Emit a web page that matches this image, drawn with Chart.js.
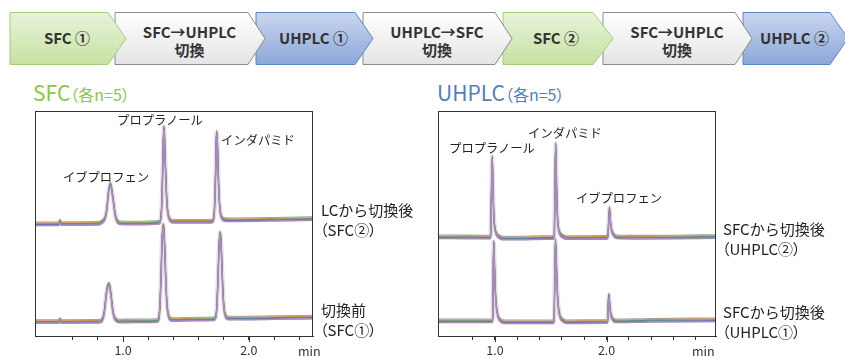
<!DOCTYPE html>
<html>
<head>
<meta charset="utf-8">
<script src="https://cdn.jsdelivr.net/npm/chart.js@4.4.1/dist/chart.umd.min.js"></script>
<style>
  body { margin:0; width:845px; height:358px; position:relative; overflow:hidden; background:#fff;
         font-family:"Noto Sans CJK JP","Noto Sans",sans-serif; color:#222; }
  .abs { position:absolute; white-space:nowrap; }
  .peak { position:absolute; white-space:nowrap; font-size:12.3px; line-height:1; transform:translate(-50%,-50%); color:#222; }
  .side { position:absolute; white-space:nowrap; font-size:15px; line-height:20px; color:#222; }
  .side .p { font-feature-settings:"palt"; margin-left:-1px; }
  .unit { position:absolute; font-size:12.5px; line-height:1; color:#333; }
  canvas { position:absolute; }
</style>
</head>
<body>

<svg class="abs" style="left:0;top:0" width="845" height="75">
  <defs>
    <linearGradient id="gG" x1="0" y1="0" x2="0" y2="1"><stop offset="0" stop-color="#e8f3da"/><stop offset="1" stop-color="#c6e1a2"/></linearGradient>
    <linearGradient id="gW" x1="0" y1="0" x2="0" y2="1"><stop offset="0" stop-color="#ffffff"/><stop offset="1" stop-color="#e4e4e4"/></linearGradient>
    <linearGradient id="gB" x1="0" y1="0" x2="0" y2="1"><stop offset="0" stop-color="#cad6ef"/><stop offset="1" stop-color="#8ca7d8"/></linearGradient>
  </defs>
  <g id="flow"></g>
</svg>

<div class="abs" style="left:33px;top:82px;line-height:1;color:#8cc63f">
  <span style="font-size:21px">SFC</span><span style="font-size:16px;font-feature-settings:'palt'">（各n=5）</span>
</div>
<div class="abs" style="left:437px;top:82px;line-height:1;color:#4f7fc0">
  <span style="font-size:21px">UHPLC</span><span style="font-size:16px;font-feature-settings:'palt'">（各n=5）</span>
</div>

<canvas id="sfc" width="300" height="253" style="left:25px;top:105px"></canvas>
<canvas id="lc" width="300" height="253" style="left:428px;top:105px"></canvas>

<div class="peak" style="left:160px;top:120px">プロプラノール</div>
<div class="peak" style="left:258px;top:140px">インダパミド</div>
<div class="peak" style="left:106px;top:177px">イブプロフェン</div>
<div class="peak" style="left:492px;top:148px">プロプラノール</div>
<div class="peak" style="left:565px;top:133px">インダパミド</div>
<div class="peak" style="left:619px;top:198px">イブプロフェン</div>

<div class="side" style="left:321px;top:200px">LCから切換後<br><span class="p">（SFC②）</span></div>
<div class="side" style="left:321px;top:300px">切換前<br><span class="p">（SFC①）</span></div>
<div class="side" style="left:723px;top:219px">SFCから切換後<br><span class="p">（UHPLC②）</span></div>
<div class="side" style="left:723px;top:302px">SFCから切換後<br><span class="p">（UHPLC①）</span></div>

<div class="unit" style="left:298px;top:345px">min</div>
<div class="unit" style="left:692px;top:345px">min</div>

<script>
// flow steps
const stepLabels = [['SFC ①'], ['SFC→UHPLC', '切換'], ['UHPLC ①'], ['UHPLC→SFC', '切換'], ['SFC ②'], ['SFC→UHPLC', '切換'], ['UHPLC ②']];
const stepKinds = ['G', 'W', 'B', 'W', 'G', 'W', 'B'];

// run colours (n=5) and their baseline spread
const runColors = ['#a3a3a3', '#f08c2e', '#3ea24c', '#2f5fae', '#b37ecd'];
const runShift = [2.0, 1.0, 0.2, -0.6, -1.5];

// SFC panel: [time (min), signal]
const sfcLower = [
  [0.30, 14.3], [0.49, 14.3], [0.497, 16.5], [0.503, 15.2], [0.51, 14.3], [0.80, 14.5], [0.830, 15.5],
  [0.843, 19.3], [0.855, 28], [0.864, 39.3], [0.876, 49], [0.888, 52], [0.898, 47], [0.908, 37],
  [0.918, 26], [0.930, 19], [0.945, 16], [0.97, 14.8], [1.10, 15], [1.27, 15.3], [1.283, 17],
  [1.293, 30], [1.302, 60], [1.310, 95], [1.316, 108], [1.320, 111], [1.325, 106], [1.332, 85],
  [1.340, 55], [1.349, 32], [1.360, 21], [1.375, 17], [1.40, 16.3], [1.60, 16.7], [1.72, 17],
  [1.735, 18.5], [1.745, 28], [1.754, 55], [1.762, 85], [1.768, 100], [1.772, 103], [1.777, 98],
  [1.784, 78], [1.792, 50], [1.801, 30], [1.812, 21], [1.83, 18], [1.86, 17.7], [2.20, 18.2], [2.51, 18.7]
];
const sfcUpper = [
  [0.30, 112], [0.49, 112], [0.497, 115], [0.503, 113.5], [0.51, 112.3], [0.80, 112.5], [0.83, 114],
  [0.856, 117.7], [0.870, 126], [0.883, 142.7], [0.893, 150], [0.900, 152], [0.908, 148], [0.922, 136],
  [0.936, 122.7], [0.949, 116], [0.976, 113], [1.10, 112.8], [1.29, 113.5], [1.300, 118], [1.308, 132],
  [1.315, 165], [1.320, 195], [1.325, 209], [1.330, 198], [1.336, 172], [1.344, 145], [1.353, 127],
  [1.363, 119], [1.378, 115.5], [1.40, 114.5], [1.70, 114.5], [1.715, 115.5], [1.724, 122], [1.731, 140],
  [1.737, 170], [1.741, 195], [1.745, 204], [1.750, 194], [1.756, 165], [1.764, 138], [1.773, 124],
  [1.784, 118.5], [1.80, 116.5], [1.84, 116], [2.20, 116.5], [2.51, 117.3]
];

// UHPLC panel: [time (min), signal]
const lcLower = [
  [0.49, 15], [0.90, 15], [0.975, 15], [0.980, 18], [0.984, 55], [0.989, 94.3], [0.994, 78],
  [1.000, 55], [1.008, 36], [1.018, 25], [1.03, 19], [1.05, 15.5], [1.08, 14], [1.30, 14],
  [1.52, 14], [1.530, 16], [1.535, 50], [1.542, 96], [1.548, 80], [1.555, 55], [1.563, 36],
  [1.573, 25], [1.585, 19], [1.61, 15.5], [1.64, 14], [1.95, 14.3], [2.005, 14.3], [2.011, 18],
  [2.016, 35], [2.021, 41], [2.027, 33], [2.035, 24], [2.045, 19], [2.06, 16], [2.085, 15],
  [2.40, 15.5], [2.98, 16]
];
const lcUpper = [
  [0.49, 99], [0.60, 99], [0.90, 98.8], [0.955, 98.8], [0.962, 101], [0.968, 140], [0.976, 179],
  [0.982, 150], [0.988, 126], [0.995, 112], [1.005, 105], [1.02, 101], [1.04, 99], [1.07, 97.8],
  [1.20, 97.8], [1.45, 98.2], [1.525, 98.3], [1.532, 102], [1.538, 150], [1.544, 192], [1.550, 160],
  [1.556, 130], [1.563, 114], [1.572, 106], [1.585, 102], [1.61, 99.5], [1.64, 98.3], [1.80, 98.3],
  [2.00, 98.4], [2.012, 100], [2.019, 115], [2.026, 127.7], [2.032, 118], [2.04, 109], [2.05, 104],
  [2.065, 101], [2.09, 99], [2.30, 98.6], [2.60, 98.8], [2.98, 99.3]
];

// flow chevrons (SVG), earlier steps sit on top of later ones
const stepBox = [[10, 108, 126], [115, 248, 265], [256, 355, 373], [363, 495, 512], [503, 593, 613], [603, 735, 752], [743, 830, 848]];
const stroke = { G: '#a2cf75', W: '#8a8a8a', B: '#5a86c6' };
let svg = '';
for (let i = stepBox.length - 1; i >= 0; i--) {
  const [l, r, t] = stepBox[i];
  const k = stepKinds[i];
  svg += `<polygon points="${l},12.5 ${r},12.5 ${t},38.5 ${r},64.5 ${l},64.5" fill="url(#g${k})" stroke="${stroke[k]}" stroke-width="1"/>`;
  const cx = (l + r) / 2 + 8;
  const lines = stepLabels[i];
  const ys = lines.length === 1 ? [43.5] : [37.5, 56];
  lines.forEach((s, j) => {
    svg += `<text x="${cx}" y="${ys[j]}" text-anchor="middle" font-size="15" font-weight="bold" fill="#333" font-family="Noto Sans CJK JP">${s}</text>`;
  });
}
document.getElementById('flow').innerHTML = svg;

Chart.defaults.font.family = '"Noto Sans CJK JP", "Noto Sans", sans-serif';

const boxPlugin = {
  id: 'box',
  afterDraw(chart) {
    const { ctx, chartArea: a, scales } = chart;
    ctx.save();
    ctx.strokeStyle = '#333';
    ctx.lineWidth = 1;
    ctx.strokeRect(a.left + 0.5, a.top + 0.5, a.right - a.left - 1, a.bottom - a.top);
    [1, 2].forEach(v => {
      const px = Math.round(scales.x.getPixelForValue(v)) + 0.5;
      ctx.beginPath();
      ctx.moveTo(px, a.bottom);
      ctx.lineTo(px, a.bottom + 6);
      ctx.stroke();
    });
    ctx.restore();
  }
};

function buildSets(traces) {
  const sets = [];
  traces.forEach(tr => {
    sets.push({ data: tr.map(p => ({ x: p[0], y: p[1] })), borderColor: 'rgba(160,160,160,0.3)', borderWidth: 4.5 });
    for (let i = runColors.length - 1; i >= 0; i--) {
      sets.push({
        data: tr.map(p => ({ x: p[0], y: p[1] + runShift[i] })),
        borderColor: runColors[i],
        borderWidth: i === 4 ? 1.6 : 1.1
      });
    }
  });
  return sets;
}

function chromatogram(id, xMin, xMax, firstTick, traces) {
  return new Chart(document.getElementById(id), {
    type: 'line',
    data: { datasets: buildSets(traces) },
    options: {
      responsive: false,
      animation: false,
      events: [],
      elements: { point: { radius: 0 }, line: { cubicInterpolationMode: 'monotone', fill: false } },
      layout: { padding: { left: 10, right: 12, top: 6, bottom: 0 } },
      plugins: { legend: { display: false }, tooltip: { enabled: false } },
      scales: {
        x: {
          type: 'linear',
          min: xMin,
          max: xMax,
          afterFit: s => { s.height = 22; },
          border: { color: '#333' },
          grid: {
            drawOnChartArea: false,
            tickLength: 4,
            tickColor: c => (c.tick && c.tick.value >= firstTick - 1e-6 ? '#333' : 'rgba(0,0,0,0)')
          },
          ticks: {
            stepSize: 0.2,
            includeBounds: false,
            autoSkip: false,
            maxRotation: 0,
            padding: 3,
            color: '#333',
            font: { size: 12.5 },
            callback: v => (Math.abs(v - 1) < 1e-6 ? '1.0' : Math.abs(v - 2) < 1e-6 ? '2.0' : '')
          }
        },
        y: { display: false, min: 0, max: 225 }
      }
    },
    plugins: [boxPlugin]
  });
}

chromatogram('sfc', 0.30, 2.51, 0.6, [sfcLower, sfcUpper]);
chromatogram('lc', 0.49, 2.98, 0.8, [lcLower, lcUpper]);
</script>
</body>
</html>
